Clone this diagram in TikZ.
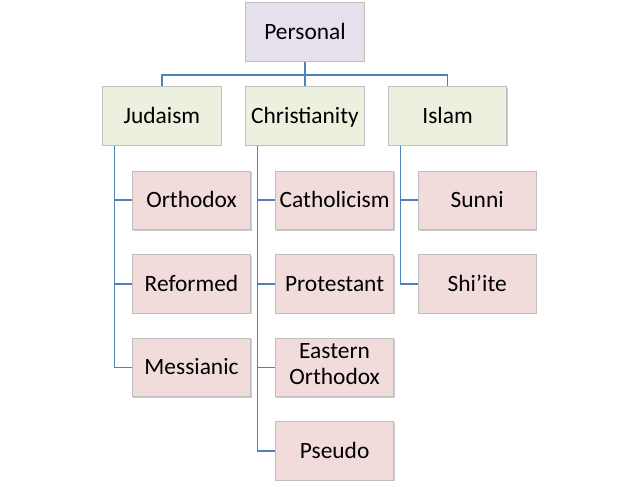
\documentclass[tikz,border=0pt]{standalone}
\usepackage{fontspec}
\setmainfont{Carlito}
\usepackage{tikz}
\usetikzlibrary{positioning}
\usetikzlibrary{shadows}
\definecolor{linkblue}{HTML}{4F81BD}
\definecolor{rootfill}{HTML}{E5E0EC}
\definecolor{groupfill}{HTML}{EBF1DE}
\definecolor{leaffill}{HTML}{F2DCDB}
\tikzset{
  box/.style={
    draw=black!25, line width=0.4pt,
    minimum width=59.2pt, minimum height=29.3pt, inner sep=2pt,
    align=center, font=\fontsize{11.7}{13}\selectfont,
    execute at begin node=\rule{0pt}{10.8pt},
    execute at end node=\rule[-3.3pt]{0pt}{0pt},
    drop shadow={shadow xshift=0.5pt, shadow yshift=-0.5pt, opacity=0.2, fill=black},
  },
  rootbox/.style={box, fill=rootfill},
  groupbox/.style={box, fill=groupfill},
  leafbox/.style={box, fill=leaffill},
  link/.style={draw=linkblue, line width=0.8pt},
}

\begin{document}
\begin{tikzpicture}

  \useasboundingbox (0,0) rectangle (320pt,-243pt);

  % Define nodes
  \node[rootbox] (personal) at (152.5pt,-16.1pt) {Personal};

  \node[groupbox, below=12.2pt of personal] (christianity) {Christianity};
  \node[groupbox, left=11.95pt of christianity] (judaism) {Judaism};
  \node[groupbox, right=11.7pt of christianity] (islam) {Islam};

  \node[leafbox, below right=12.4pt and 14.8pt of judaism.south west] (orthodox) {Orthodox};
  \node[leafbox, below=12.1pt of orthodox] (reformed) {Reformed};
  \node[leafbox, below=12.1pt of reformed] (messianic) {Messianic};

  \node[leafbox, below right=12.4pt and 14.8pt of christianity.south west] (catholicism) {Catholicism};
  \node[leafbox, below=12.1pt of catholicism] (protestant) {Protestant};
  \node[leafbox, below=12.1pt of protestant] (eastern_orthodox) {Eastern\\Orthodox};
  \node[leafbox, below=12.1pt of eastern_orthodox] (pseudo) {Pseudo};

  \node[leafbox, below right=12.4pt and 14.8pt of islam.south west] (sunni) {Sunni};
  \node[leafbox, below=12.1pt of sunni] (shiite) {Shi’ite};

  \coordinate (judaism_trunk) at ([xshift=6pt]judaism.south west);
  \coordinate (christianity_trunk) at ([xshift=6pt]christianity.south west);
  \coordinate (islam_trunk) at ([xshift=6.3pt]islam.south west);

  % Connect nodes
  \draw[link] (personal.south) -- ++(0,-6.5pt) -| (judaism.north);
  \draw[link] (personal.south) -- (christianity.north);
  \draw[link] (personal.south) -- ++(0,-6.5pt) -| (islam.north);

  \draw[link] (judaism_trunk) |- (orthodox.west);
  \draw[link] (judaism_trunk) |- (reformed.west);
  \draw[link] (judaism_trunk) |- (messianic.west);

  \draw[link] (christianity_trunk) |- (catholicism.west);
  \draw[link] (christianity_trunk) |- (protestant.west);
  \draw[link] (christianity_trunk) |- (eastern_orthodox.west);
  \draw[link] (christianity_trunk) |- (pseudo.west);

  \draw[link] (islam_trunk) |- (sunni.west);
  \draw[link] (islam_trunk) |- (shiite.west);

\end{tikzpicture}
\end{document}
